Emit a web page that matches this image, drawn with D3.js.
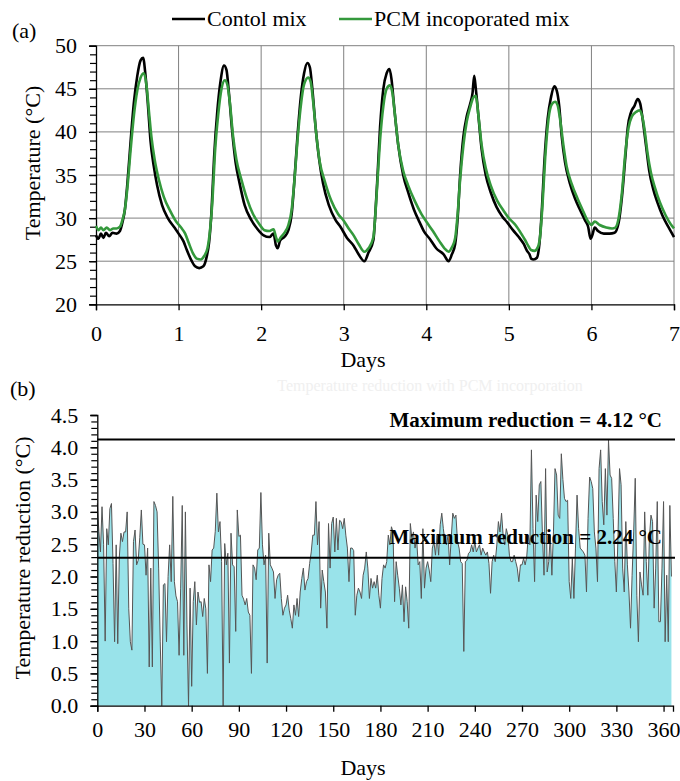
<!DOCTYPE html>
<html><head><meta charset="utf-8">
<script src="https://cdn.jsdelivr.net/npm/d3@7"></script>
<style>
html,body{margin:0;padding:0;background:#fff;}
svg text{font-family:"Liberation Serif","Times New Roman",serif;fill:#000;}
</style></head>
<body><svg id="c" width="680" height="781"></svg>
<script>
// ---------- Data: (a) 7-day temperature profiles ----------
const seriesNames = ["Contol mix", "PCM incoporated mix"];
const ctrlT = [0,0.03,0.06,0.09,0.12,0.16,0.2,0.25,0.29,0.32,0.35,0.38,0.42,0.46,0.5,0.54,0.57,0.6,0.63,0.66,0.7,0.74,0.8,0.87,0.95,1,1.06,1.1,1.16,1.2,1.25,1.3,1.34,1.37,1.4,1.43,1.47,1.51,1.55,1.58,1.61,1.65,1.69,1.74,1.8,1.88,1.95,2.03,2.1,2.15,2.18,2.2,2.23,2.28,2.33,2.37,2.4,2.44,2.48,2.52,2.56,2.59,2.62,2.66,2.7,2.75,2.82,2.9,2.96,3.04,3.12,3.18,3.25,3.3,3.36,3.38,3.41,3.44,3.48,3.52,3.555,3.58,3.61,3.66,3.72,3.78,3.85,3.92,3.97,4.05,4.12,4.21,4.27,4.31,4.35,4.38,4.41,4.45,4.49,4.53,4.56,4.58,4.6,4.63,4.67,4.72,4.78,4.85,4.92,4.98,5.05,5.12,5.18,5.22,5.25,5.27,5.3,5.34,5.37,5.4,5.43,5.47,5.51,5.55,5.58,5.61,5.64,5.68,5.74,5.8,5.86,5.92,5.96,5.99,6.01,6.04,6.08,6.15,6.22,6.28,6.33,6.37,6.41,6.44,6.48,6.52,6.56,6.59,6.62,6.66,6.7,6.75,6.8,6.86,6.93,7];
const ctrlV = [28,27.6,28.2,27.7,28.3,27.9,28.3,28.2,28.5,29.5,31,34,39,43.5,46.5,48.3,48.6,46.5,43,39,36,33.8,31.5,30,28.9,28.2,27.3,26.3,25,24.4,24.2,24.4,25.5,27.2,31,37,42.5,46,47.7,47.2,44.5,40,36.5,34,31.5,29.8,28.8,28,27.8,28.2,26.8,26.5,27.4,27.8,28.6,30.5,34,39.5,44,46.8,48,47.5,45,40.5,37,34,31.5,29.8,29,27.7,26.8,25.8,25,26,27.5,30,35,40.5,45,46.8,47.3,46,43,38.5,35,33,31,29.5,28.5,27.5,26.5,25.8,25,25.8,27,30,35,39.5,41.8,43.2,44.5,46.5,45,42,38,35,33,31.3,30.2,29.5,28.6,27.8,27,26.2,25.8,25.3,25.2,25.4,27,31,36.5,41.5,44,45.3,44.8,43,39.5,36.5,34,32.3,31,29.8,29,27.6,28,28.9,28.5,28.2,28.2,28.3,29.5,32.5,37,40.5,42.3,43,43.8,43.3,41.5,38.5,35.5,33.3,31.8,30.3,29,27.8];
const pcmT = [0,0.03,0.06,0.09,0.13,0.17,0.21,0.25,0.29,0.32,0.35,0.38,0.42,0.46,0.5,0.54,0.58,0.61,0.64,0.67,0.71,0.76,0.82,0.9,0.97,1.03,1.08,1.12,1.17,1.22,1.27,1.31,1.35,1.38,1.41,1.44,1.48,1.52,1.56,1.59,1.62,1.66,1.7,1.76,1.83,1.9,1.97,2.04,2.1,2.15,2.18,2.2,2.24,2.29,2.33,2.37,2.4,2.44,2.48,2.52,2.57,2.6,2.63,2.67,2.71,2.77,2.85,2.93,3,3.06,3.12,3.18,3.25,3.3,3.36,3.38,3.41,3.44,3.48,3.52,3.56,3.59,3.62,3.66,3.72,3.78,3.86,3.94,4,4.08,4.16,4.22,4.27,4.31,4.35,4.38,4.41,4.45,4.49,4.53,4.57,4.6,4.63,4.67,4.72,4.78,4.86,4.94,5,5.08,5.15,5.2,5.24,5.27,5.31,5.35,5.38,5.41,5.44,5.48,5.52,5.56,5.59,5.62,5.66,5.7,5.76,5.83,5.9,5.96,6,6.04,6.1,6.18,6.25,6.29,6.33,6.37,6.41,6.45,6.49,6.54,6.58,6.61,6.64,6.68,6.72,6.77,6.83,6.9,6.96,7];
const pcmV = [29.1,28.6,28.9,28.6,28.9,28.6,28.8,28.8,29,29.8,31,33.5,38,42,44.8,46.3,46.8,45.5,42.5,39.5,36.8,34.5,32.5,30.8,29.6,28.9,28.2,27.2,26,25.3,25.2,25.6,26.5,28.5,32,37.5,42,45,46,45.5,43.5,39.5,36.8,34.5,32.2,30.5,29.4,28.6,28.5,28.7,27.8,27.3,27.8,28.4,29.2,31,34,39,43,45.5,46.3,45.8,43.5,39.5,36.5,34.3,32,30.5,29.7,28.8,28,27,26.1,26.5,27.8,30,34.5,39,43,45,45.4,44.5,42,38.5,35.5,33.8,32,30.5,29.6,28.5,27.3,26.5,26.1,26.6,27.7,30.5,34.5,38.5,41.2,42.8,44,44.2,42,38.5,35.8,33.8,32,30.8,30,29.2,28.2,27.4,26.7,26.3,26.2,26.6,28,32,37,41.5,43.2,43.5,43.1,41.5,38.5,36,34,32.3,30.8,29.6,29.2,29.6,29.2,28.9,28.8,28.9,30,33,37.5,40.5,41.8,42.3,42.5,42,40.5,37.5,35.3,33.5,31.8,30.3,29.3,28.8];
const topXTicks = [0,1,2,3,4,5,6,7];
const topYTicks = [20,25,30,35,40,45,50];

// ---------- Data: (b) daily temperature reduction (day 0..365) ----------
const reduction = [
3.13,2.7,2.38,3.08,2.5,1.0,2.74,2.49,3.05,3.13,2.2,0.99,2.49,0.96,2.3,2.67,2.54,2.69,2.69,3.0,
1.5,0.99,0.86,2.54,2.72,2.18,2.25,2.6,3.03,2.5,2.49,2.02,2.44,0.6,2.13,0.6,3.16,3.1,3.0,2.13,
1.0,0.0,1.87,1.89,0.99,2.0,2.49,1.92,3.24,1.92,1.7,1.61,0.78,1.82,3.1,0.78,3.0,1.25,0.0,1.82,
0.3,1.61,1.92,1.25,1.76,1.6,1.61,1.38,1.66,1.5,0.5,2.18,1.92,2.41,2.44,2.7,3.29,2.69,2.85,2.23,
0.0,2.51,2.18,2.36,0.66,2.67,2.18,2.15,1.15,3.03,2.62,2.64,1.71,
1.65,1.56,1.66,1.45,1.4,0.5,2.18,2.13,1.95,2.41,2.44,3.3,2.49,2.18,2.33,0.66,2.67,2.18,2.13,2.07,
1.66,1.95,2.02,2.05,1.66,1.4,1.51,1.56,1.71,1.48,1.35,1.2,1.56,1.4,1.66,1.38,1.76,1.97,2.13,1.79,
1.92,1.97,2.2,2.38,2.64,2.64,3.16,2.49,2.85,1.51,2.1,1.92,1.76,1.2,2.82,2.13,2.82,2.92,2.38,2.9,
2.41,2.87,2.85,2.74,2.9,2.64,2.44,1.92,2.44,2.44,2.4,1.4,1.71,1.82,1.76,1.66,2.02,2.13,2.38,2.13,
1.66,1.97,1.82,1.92,1.82,2.02,1.71,1.51,1.97,2.18,2.13,2.23,
2.64,2.49,2.77,2.69,1.61,2.23,2.02,1.82,1.56,1.87,1.3,1.84,1.61,1.2,2.82,2.59,2.69,2.44,2.59,2.18,
2.23,1.66,2.74,1.82,2.13,2.23,2.1,1.92,2.44,2.54,2.33,2.64,2.33,2.8,2.98,2.74,2.54,2.49,2.64,2.18,
2.59,2.98,2.9,2.95,2.54,2.44,2.23,2.2,0.84,2.23,2.25,2.36,2.38,2.49,2.38,2.54,2.38,2.44,2.49,2.33,
2.44,2.38,2.33,2.38,2.2,1.74,2.23,2.33,2.23,2.49,2.85,2.69,2.98,2.64,2.49,2.74,2.64,2.33,2.23,2.23,
2.33,2.23,2.13,1.92,2.18,2.18,2.28,2.18,2.3,2.64,2.49,3.96,2.74,1.92,
3.26,2.85,3.42,3.47,2.64,2.02,3.67,2.07,2.23,2.64,2.02,2.69,3.67,3.57,2.95,2.9,3.9,3.5,3.21,3.16,
3.18,1.92,1.66,2.28,1.66,2.44,3.26,2.74,2.44,2.41,2.38,2.33,1.76,2.9,3.54,3.47,3.36,2.69,2.44,1.92,
3.67,3.96,3.16,2.8,3.67,2.95,4.11,
3.57,3.52,2.9,2.23,1.76,2.59,3.67,3.42,2.13,1.76,2.85,2.18,1.76,1.2,2.02,2.69,3.52,1.71,0.99,2.07,
1.87,1.71,3.0,2.23,1.71,2.59,2.95,2.85,1.51,2.13,3.16,1.3,1.3,2.13,3.16,0.99,2.02,0.99,3.1,2.0
];
const refLines = [4.12, 2.29];
const refLabels = ["Maximum reduction = 4.12 \u00B0C", "Maximum reduction = 2.24 \u00B0C"];
const botXTicks = [0,30,60,90,120,150,180,210,240,270,300,330,360];
const botYTicks = [0,0.5,1,1.5,2,2.5,3,3.5,4,4.5];

const svg = d3.select("#c");
const FS = 22;
const FONT = '"Liberation Serif","Times New Roman",serif';

// ================= (a) =================
const xA = d3.scaleLinear().domain([0, 7]).range([96, 674]);
const yA = d3.scaleLinear().domain([20, 50]).range([304.3, 45.7]);
const gA = svg.append("g");

// grid
gA.selectAll("line.hg").data(topYTicks.filter(v => v > 20)).enter().append("line")
  .attr("x1", xA(0)).attr("x2", xA(7)).attr("y1", d => yA(d)).attr("y2", d => yA(d))
  .attr("stroke", "#808080").attr("stroke-width", 1);
gA.selectAll("line.vg").data(topXTicks.filter(v => v > 0)).enter().append("line")
  .attr("x1", d => xA(d)).attr("x2", d => xA(d)).attr("y1", yA(50)).attr("y2", yA(20))
  .attr("stroke", "#808080").attr("stroke-width", 1);

// axes
const axA_x = d3.axisBottom(xA).tickValues(topXTicks).tickSize(6).tickFormat(d3.format("d"));
gA.append("g").attr("transform", `translate(0,${yA(20)})`).call(axA_x)
  .call(g => { g.select(".domain").attr("stroke", "#000").attr("stroke-width", 1.3);
    g.selectAll(".tick line").attr("stroke", "#000").attr("stroke-width", 1.3);
    g.selectAll("text").attr("font-size", FS).attr("dy", 0).attr("y", 37).style("font-family", FONT); });
const axA_yMinor = d3.axisLeft(yA).tickValues(d3.range(20, 51, 1)).tickSize(6).tickFormat("");
gA.append("g").attr("transform", `translate(${xA(0)},0)`).call(axA_yMinor)
  .call(g => { g.select(".domain").remove(); g.selectAll(".tick line").attr("stroke", "#000").attr("stroke-width", 1.2); });
const axA_y = d3.axisLeft(yA).tickValues(topYTicks).tickSize(7).tickPadding(12);
gA.append("g").attr("transform", `translate(${xA(0)},0)`).call(axA_y)
  .call(g => { g.select(".domain").attr("stroke", "#000").attr("stroke-width", 1.3);
    g.selectAll(".tick line").attr("stroke", "#000").attr("stroke-width", 1.3);
    g.selectAll("text").attr("font-size", FS).style("font-family", FONT); });

// series
const lineA = (T, V) => d3.line().x((d, i) => xA(T[i])).y(d => yA(d)).curve(d3.curveMonotoneX)(V);
gA.append("path").attr("d", lineA(ctrlT, ctrlV)).attr("fill", "none").attr("stroke", "#000").attr("stroke-width", 2.6);
gA.append("path").attr("d", lineA(pcmT, pcmV)).attr("fill", "none").attr("stroke", "#34993c").attr("stroke-width", 2.6);

// legend
const legColors = ["#000", "#34993c"];
const legX = [172, 339];
seriesNames.forEach((n, i) => {
  svg.append("line").attr("x1", legX[i]).attr("x2", legX[i] + 33).attr("y1", 19).attr("y2", 19)
    .attr("stroke", legColors[i]).attr("stroke-width", 2.6);
  svg.append("text").attr("x", legX[i] + 35).attr("y", 26).attr("font-size", FS).text(n);
});
svg.append("text").attr("x", 12).attr("y", 38).attr("font-size", FS).text("(a)");
svg.append("text").attr("transform", "translate(40,163) rotate(-90)").attr("text-anchor", "middle")
  .attr("font-size", FS).text("Temperature (\u00B0C)");
svg.append("text").attr("x", 363).attr("y", 367).attr("text-anchor", "middle").attr("font-size", FS).text("Days");
svg.append("text").attr("x", 430).attr("y", 391).attr("text-anchor", "middle").attr("font-size", 16)
  .style("fill", "#f0f0f0").text("Temperature  reduction with PCM incorporation");

// ================= (b) =================
const xB = d3.scaleLinear().domain([0, 366]).range([97.3, 673]);
const yB = d3.scaleLinear().domain([0, 4.5]).range([705.7, 415]);
const gB = svg.append("g");

const area = d3.area().x((d, i) => xB(i)).y0(yB(0)).y1(d => yB(d));
gB.append("path").attr("d", area(reduction)).attr("fill", "#99e3ea");
const lineB = d3.line().x((d, i) => xB(i)).y(d => yB(d));
gB.append("path").attr("d", lineB(reduction)).attr("fill", "none").attr("stroke", "#555").attr("stroke-width", 1);

// reference lines
gB.selectAll("line.ref").data(refLines).enter().append("line")
  .attr("x1", xB(0)).attr("x2", 675).attr("y1", d => yB(d)).attr("y2", d => yB(d))
  .attr("stroke", "#000").attr("stroke-width", 2);
const refLabelY = [427, 544];
refLabels.forEach((t, i) => {
  gB.append("text").attr("x", 662).attr("y", refLabelY[i]).attr("text-anchor", "end")
    .attr("font-size", 21).attr("font-weight", "bold").text(t);
});

// axes
const axB_x = d3.axisBottom(xB).tickValues(botXTicks).tickSize(6);
gB.append("g").attr("transform", `translate(0,${yB(0)})`).call(axB_x)
  .call(g => { g.select(".domain").attr("stroke", "#000").attr("stroke-width", 1.3);
    g.selectAll(".tick line").attr("stroke", "#000").attr("stroke-width", 1.3);
    g.selectAll("text").attr("font-size", FS).attr("dy", 0).attr("y", 31).style("font-family", FONT); });
const axB_yMinor = d3.axisLeft(yB).tickValues(d3.range(0, 46).map(i => i / 10)).tickSize(6).tickFormat("");
gB.append("g").attr("transform", `translate(${xB(0)},0)`).call(axB_yMinor)
  .call(g => { g.select(".domain").remove(); g.selectAll(".tick line").attr("stroke", "#000").attr("stroke-width", 1.2); });
const axB_y = d3.axisLeft(yB).tickValues(botYTicks).tickSize(7).tickPadding(12).tickFormat(d3.format(".1f"));
gB.append("g").attr("transform", `translate(${xB(0)},0)`).call(axB_y)
  .call(g => { g.select(".domain").attr("stroke", "#000").attr("stroke-width", 1.3);
    g.selectAll(".tick line").attr("stroke", "#000").attr("stroke-width", 1.3);
    g.selectAll("text").attr("font-size", FS).style("font-family", FONT); });

svg.append("text").attr("x", 10).attr("y", 396).attr("font-size", FS).text("(b)");
svg.append("text").attr("transform", "translate(30,558) rotate(-90)").attr("text-anchor", "middle")
  .attr("font-size", FS).text("Temperature reduction  (\u00B0C)");
svg.append("text").attr("x", 363).attr("y", 775).attr("text-anchor", "middle").attr("font-size", FS).text("Days");
</script></body></html>
